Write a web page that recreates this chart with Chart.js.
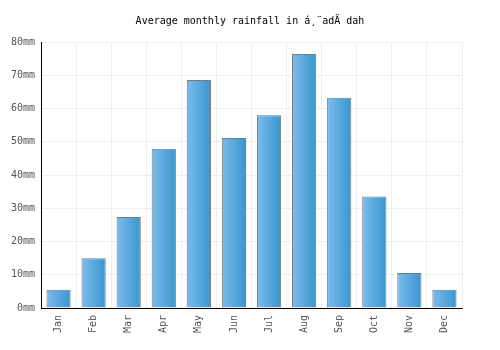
<!DOCTYPE html>
<html>
<head>
<meta charset="utf-8">
<script src="https://cdn.jsdelivr.net/npm/chart.js@4"></script>
<style>
  html, body { margin: 0; padding: 0; background: #fff; }
  #wrap { width: 500px; height: 350px; }
</style>
</head>
<body>
<div id="wrap"><canvas id="rainChart" width="500" height="350"></canvas></div>
<script>
const months = ["Jan", "Feb", "Mar", "Apr", "May", "Jun", "Jul", "Aug", "Sep", "Oct", "Nov", "Dec"];
const rainfall = [5.5, 15.0, 27.4, 47.9, 68.6, 51.1, 58.0, 76.4, 63.2, 33.5, 10.5, 5.5];
const yTicks = [0, 10, 20, 30, 40, 50, 60, 70, 80];

const monoFont = "'DejaVu Sans Mono', monospace";

// gradient left->right on each bar
function barGradient(ctx) {
    const chart = ctx.chart;
    const area = chart.chartArea;
    if (!area || ctx.type !== "data") return "#5aa8e0";
    const x = chart.scales.x.getPixelForValue(ctx.dataIndex);
    const half = 12;
    const g = chart.ctx.createLinearGradient(x - half, 0, x + half, 0);
    g.addColorStop(0, "#7dbbec");
    g.addColorStop(1, "#3896d1");
    return g;
}

new Chart(document.getElementById("rainChart"), {
    type: "bar",
    data: {
        labels: months,
        datasets: [{
            label: "Rainfall",
            data: rainfall,
            backgroundColor: barGradient,
            borderColor: "#7a7a7a",
            borderWidth: 1,
            categoryPercentage: 1,
            barPercentage: 0.69
        }]
    },
    options: {
        responsive: false,
        animation: false,
        layout: { padding: 0 },
        plugins: {
            legend: { display: false },
            tooltip: { enabled: false },
            title: {
                display: true,
                text: "Average monthly rainfall in á¸¨adÄ dah",
                color: "#000",
                font: { family: monoFont, size: 10, weight: "normal" },
                padding: { top: 15, bottom: 15 }
            }
        },
        scales: {
            x: {
                grid: { color: "#eeeeee", lineWidth: 1, drawTicks: false, offset: true },
                border: { color: "#000", width: 1 },
                ticks: {
                    color: "#555",
                    font: { family: monoFont, size: 10 },
                    minRotation: 90,
                    maxRotation: 90,
                    padding: 7
                },
                afterFit: s => { s.height = 42; }
            },
            y: {
                min: 0,
                max: 80,
                afterBuildTicks: s => { s.ticks = yTicks.map(v => ({ value: v })); },
                grid: { color: "#eeeeee", lineWidth: 1, drawTicks: false },
                border: { color: "#000", width: 1 },
                ticks: {
                    color: "#555",
                    font: { family: monoFont, size: 10 },
                    padding: 6,
                    callback: v => v + "mm"
                },
                afterFit: s => { s.width = 41; }
            },
            // empty right-hand spacer so the title stays centred on the canvas
            yRight: {
                position: "right",
                min: 0,
                max: 80,
                grid: { display: false, drawTicks: false },
                border: { display: false },
                ticks: { display: false },
                afterFit: s => { s.width = 38; }
            }
        }
    }
});
</script>
</body>
</html>
